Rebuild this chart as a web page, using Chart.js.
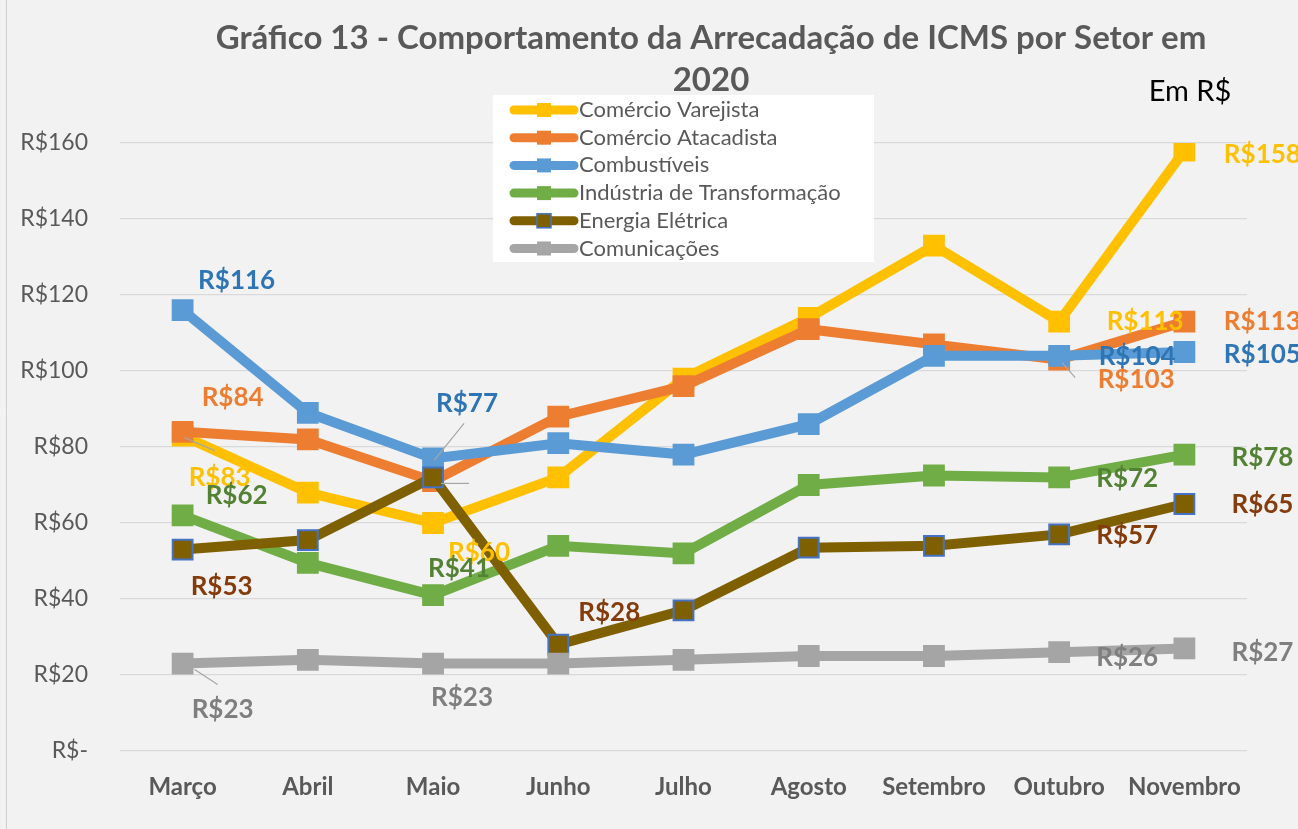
<!DOCTYPE html>
<html>
<head>
<meta charset="utf-8">
<script src="https://cdn.jsdelivr.net/npm/chart.js@4.4.1/dist/chart.umd.min.js"></script>
<style>
  html, body { margin: 0; padding: 0; background: #f2f2f2; }
</style>
</head>
<body>
<canvas id="grafico" width="1298" height="829"></canvas>
<script>
// Dados (R$)
const meses = ['Março', 'Abril', 'Maio', 'Junho', 'Julho', 'Agosto', 'Setembro', 'Outubro', 'Novembro'];
const setores = ['Comércio Varejista', 'Comércio Atacadista', 'Combustíveis', 'Indústria de Transformação', 'Energia Elétrica', 'Comunicações'];
const varejista    = [83, 68, 60, 72, 98, 114, 133, 113, 158];
const atacadista   = [84, 82, 71, 88, 96, 111, 107, 103, 113];
const combustiveis = [116, 89, 77, 81, 78, 86, 104, 104, 105];
const industria    = [62, 49.5, 41, 54, 52, 70, 72.5, 72, 78];
const energia      = [53, 55.5, 72, 28, 37, 53.5, 54, 57, 65];
const comunicacoes = [23, 24, 23, 23, 24, 25, 25, 26, 27];
const yTicks = [0, 20, 40, 60, 80, 100, 120, 140, 160];

const FONTE = 'Lato, "Open Sans", sans-serif';
const CINZA = '#595959';

// cores de cada serie
const estilos = [
  { linha: '#FFC000', ponto: '#FFC000', borda: '#FFC000', rotulo: '#FFC000' },
  { linha: '#ED7D31', ponto: '#ED7D31', borda: '#ED7D31', rotulo: '#ED7D31' },
  { linha: '#5B9BD5', ponto: '#5B9BD5', borda: '#5B9BD5', rotulo: '#2E75B6' },
  { linha: '#70AD47', ponto: '#70AD47', borda: '#70AD47', rotulo: '#548235' },
  { linha: '#7F6000', ponto: '#7F6000', borda: '#4472C4', rotulo: '#843C0C' },
  { linha: '#A5A5A5', ponto: '#A5A5A5', borda: '#A5A5A5', rotulo: '#7F7F7F' }
];

// posicao dos rotulos de dados (indice do mes, deslocamento do texto, linha de chamada opcional)
const rotulos = [
  [ { i: 0, dx: 37, dy: 42, guia: [2, 2, 32, 15] }, { i: 2, dx: 46, dy: 30 }, { i: 7, dx: 86, dy: 0 }, { i: 8, dx: 78, dy: 4 } ],
  [ { i: 0, dx: 50, dy: -34 }, { i: 7, dx: 77, dy: 20, guia: [3, 3, 16, 18] }, { i: 8, dx: 78, dy: 0 } ],
  [ { i: 0, dx: 54, dy: -30 }, { i: 2, dx: 34, dy: -55, guia: [1, 2, 31, -35] }, { i: 7, dx: 78, dy: 1 }, { i: 8, dx: 78, dy: 3 } ],
  [ { i: 0, dx: 54, dy: -20 }, { i: 2, dx: 26, dy: -27 }, { i: 7, dx: 68, dy: 1 }, { i: 8, dx: 78, dy: 3 } ],
  [ { i: 0, dx: 39, dy: 37 }, { i: 2, guia: [8, 6, 36, 6] }, { i: 3, dx: 51, dy: -32 }, { i: 7, dx: 68, dy: 1 }, { i: 8, dx: 78, dy: 1 } ],
  [ { i: 0, dx: 40, dy: 46, guia: [12, 6, 35, 21] }, { i: 2, dx: 29, dy: 34 }, { i: 7, dx: 68, dy: 5 }, { i: 8, dx: 78, dy: 4 } ]
];

const series = [varejista, atacadista, combustiveis, industria, energia, comunicacoes];

const fundo = {
  id: 'fundo',
  beforeDraw(chart) {
    const c = chart.ctx;
    c.save();
    c.fillStyle = '#F2F2F2';
    c.fillRect(0, 0, chart.width, chart.height);
    c.strokeStyle = '#D0D0D0';
    c.lineWidth = 1;
    c.beginPath();
    c.moveTo(6.5, 0);
    c.lineTo(6.5, chart.height);
    c.stroke();
    c.restore();
  }
};

const extras = {
  id: 'extras',
  afterDatasetsDraw(chart) {
    const c = chart.ctx;
    c.save();

    // rotulos de dados
    rotulos.forEach((lista, s) => {
      const meta = chart.getDatasetMeta(s);
      lista.forEach(r => {
        const p = meta.data[r.i];
        if (r.guia) {
          c.strokeStyle = '#A6A6A6';
          c.lineWidth = 1.2;
          c.beginPath();
          c.moveTo(p.x + r.guia[0], p.y + r.guia[1]);
          c.lineTo(p.x + r.guia[2], p.y + r.guia[3]);
          c.stroke();
        }
        if (r.dx === undefined) return;
        c.fillStyle = estilos[s].rotulo;
        c.font = 'bold 26px ' + FONTE;
        c.textAlign = 'center';
        c.textBaseline = 'middle';
        c.fillText('R$' + Math.round(series[s][r.i]), p.x + r.dx, p.y + r.dy);
      });
    });

    // titulo
    c.fillStyle = CINZA;
    c.font = 'bold 33px ' + FONTE;
    c.textAlign = 'center';
    c.textBaseline = 'middle';
    c.fillText('Gráfico 13 - Comportamento da Arrecadação de ICMS por Setor em', 711, 38);
    c.fillText('2020', 711, 80);

    c.fillStyle = '#000000';
    c.font = '29px ' + FONTE;
    c.fillText('Em R$', 1190, 92);

    // legenda
    c.fillStyle = '#FFFFFF';
    c.fillRect(493, 95, 381, 167);
    chart.data.datasets.forEach((ds, k) => {
      const y = 110 + k * 27.7;
      const e = estilos[k];
      c.strokeStyle = e.linha;
      c.lineWidth = 9;
      c.lineCap = 'round';
      c.beginPath();
      c.moveTo(514, y);
      c.lineTo(574, y);
      c.stroke();
      c.fillStyle = e.ponto;
      c.fillRect(537, y - 7, 14, 14);
      if (e.borda !== e.ponto) {
        c.strokeStyle = e.borda;
        c.lineWidth = 1.5;
        c.strokeRect(537, y - 7, 14, 14);
      }
      c.fillStyle = CINZA;
      c.font = '22px ' + FONTE;
      c.textAlign = 'left';
      c.fillText(ds.label, 579, y);
    });
    c.restore();
  }
};

const ctx = document.getElementById('grafico').getContext('2d');
new Chart(ctx, {
  type: 'line',
  data: {
    labels: meses,
    datasets: series.map((dados, k) => ({
      label: setores[k],
      data: dados,
      borderColor: estilos[k].linha,
      backgroundColor: estilos[k].ponto,
      pointBackgroundColor: estilos[k].ponto,
      pointBorderColor: estilos[k].borda,
      pointBorderWidth: 2,
      pointStyle: 'rect',
      pointRadius: 14,
      borderWidth: 10,
      tension: 0,
      order: series.length - k
    }))
  },
  options: {
    responsive: false,
    devicePixelRatio: 1,
    animation: false,
    layout: { padding: { top: 143, right: 51, left: 0, bottom: 0 } },
    plugins: {
      legend: { display: false },
      tooltip: { enabled: false },
      title: { display: false }
    },
    scales: {
      x: {
        offset: true,
        grid: { display: false, drawTicks: false },
        border: { display: false },
        ticks: { color: CINZA, font: { family: FONTE, size: 24, weight: 'bold' }, padding: 22 },
        afterFit(scale) { scale.height = 78; }
      },
      y: {
        min: 0,
        max: 160,
        afterBuildTicks(scale) { scale.ticks = yTicks.map(v => ({ value: v })); },
        grid: { color: '#D9D9D9', lineWidth: 1.3, drawTicks: false },
        border: { display: false },
        ticks: {
          color: CINZA,
          font: { family: FONTE, size: 23 },
          padding: 32,
          callback: v => v === 0 ? 'R$-' : 'R$' + v
        },
        afterFit(scale) { scale.width = 120; }
      }
    }
  },
  plugins: [fundo, extras]
});
</script>
</body>
</html>
